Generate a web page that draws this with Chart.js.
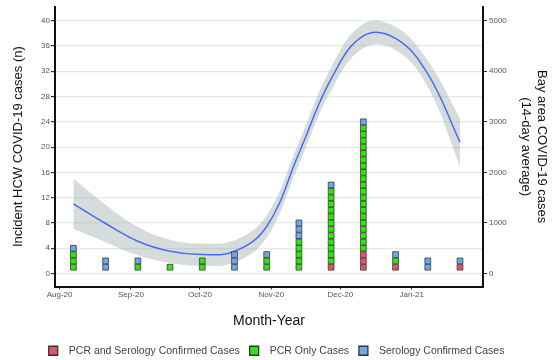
<!DOCTYPE html>
<html>
<head>
<meta charset="utf-8">
<script src="https://cdn.jsdelivr.net/npm/chart.js@4.4.0/dist/chart.umd.min.js"></script>
<style>
  html, body { margin: 0; padding: 0; background: #fff; }
  #wrap { width: 559px; height: 360px; }
</style>
</head>
<body>
<div id="wrap"><canvas id="hcwChart"></canvas></div>
<script>
// biweekly bins
const binDates = ["2020-08-07", "2020-08-21", "2020-09-04", "2020-09-18", "2020-10-02", "2020-10-16",
  "2020-10-30", "2020-11-13", "2020-11-27", "2020-12-11", "2020-12-25", "2021-01-08", "2021-01-22"];
const pcrSeroCounts = [0, 0, 0, 0, 0, 0, 0, 0, 1, 3, 1, 0, 1];
const pcrOnlyCounts = [3, 0, 1, 1, 2, 0, 2, 5, 12, 20, 1, 0, 0];
const seroCounts    = [1, 2, 1, 0, 0, 3, 1, 3, 1, 1, 1, 2, 1];

// bay area 14-day average, smoothed, with band
const bayTrend = [1380, 990, 640, 440, 375, 440, 930, 2380, 3850, 4700, 4650, 3950, 2600];
const bayLower = [880, 620, 360, 210, 155, 220, 710, 2160, 3620, 4460, 4420, 3690, 2130];
const bayUpper = [1880, 1360, 920, 670, 595, 660, 1150, 2600, 4080, 4940, 4880, 4210, 3070];

const monthStarts = ["2020-08-01", "2020-09-01", "2020-10-01", "2020-11-01", "2020-12-01", "2021-01-01"];
const monthLabels = ["Aug-20", "Sep-20", "Oct-20", "Nov-20", "Dec-20", "Jan-21"];

const leftTicks = [0, 4, 8, 12, 16, 20, 24, 28, 32, 36, 40];
const rightTicks = [0, 1000, 2000, 3000, 4000, 5000];

const origin = Date.parse("2020-08-01");
function dayOf(s) { return (Date.parse(s) - origin) / 86400000; }
const binDays = binDates.map(dayOf);
const monthDays = monthStarts.map(dayOf);

// stack one square per case: pcr+sero at bottom, then pcr only, then serology
const pinkPts = [], greenPts = [], bluePts = [];
binDays.forEach(function (d, i) {
  let n = 0;
  for (let k = 0; k < pcrSeroCounts[i]; k++) pinkPts.push({ x: d, y: ++n });
  for (let k = 0; k < pcrOnlyCounts[i]; k++) greenPts.push({ x: d, y: ++n });
  for (let k = 0; k < seroCounts[i]; k++) bluePts.push({ x: d, y: ++n });
});

const toXY = vals => vals.map((v, i) => ({ x: binDays[i], y: v }));

const FONT = "Liberation Sans, Arial, sans-serif";

const dotStyle = {
  type: "scatter",
  showLine: false,
  pointStyle: "rect",
  pointRadius: 4.1,
  pointBorderWidth: 0.8,
  pointBorderColor: "#3a3a3a",
  yAxisID: "y",
  order: 0
};

new Chart(document.getElementById("hcwChart"), {
  type: "line",
  data: {
    datasets: [
      Object.assign({ label: "PCR and Serology Confirmed Cases", data: pinkPts,
        backgroundColor: "#e8506d", pointBackgroundColor: "#e8506d", borderColor: "#3a3a3a" }, dotStyle),
      Object.assign({ label: "PCR Only Cases", data: greenPts,
        backgroundColor: "#2ee60a", pointBackgroundColor: "#2ee60a", borderColor: "#3a3a3a" }, dotStyle),
      Object.assign({ label: "Serology Confirmed Cases", data: bluePts,
        backgroundColor: "#6ea6f0", pointBackgroundColor: "#6ea6f0", borderColor: "#3a3a3a" }, dotStyle),
      {
        label: "trend", data: toXY(bayTrend), yAxisID: "y2",
        borderColor: "#4a6cf0", borderWidth: 1.5, pointRadius: 0,
        tension: 0.4, fill: false, order: 1
      },
      {
        label: "lower", data: toXY(bayLower), yAxisID: "y2",
        borderColor: "rgba(0,0,0,0)", pointRadius: 0,
        tension: 0.4, fill: false, order: 2
      },
      {
        label: "upper", data: toXY(bayUpper), yAxisID: "y2",
        borderColor: "rgba(0,0,0,0)", pointRadius: 0,
        backgroundColor: "rgba(165,176,176,0.45)",
        tension: 0.4, fill: "-1", order: 2
      }
    ]
  },
  options: {
    responsive: true,
    maintainAspectRatio: false,
    animation: false,
    events: [],
    // negative bottom padding pulls the legend down toward the edge
    layout: { padding: { top: 6, right: 0, left: 0, bottom: -6 } },
    plugins: {
      tooltip: { enabled: false },
      legend: {
        position: "bottom",
        labels: {
          boxWidth: 9,
          boxHeight: 9,
          padding: 4,
          color: "#444",
          font: { family: FONT, size: 10.5 },
          generateLabels: function (chart) {
            const items = Chart.defaults.plugins.legend.labels.generateLabels(chart)
              .filter(it => it.datasetIndex < 3);
            items.forEach(function (it) {
              it.text = "  " + it.text + "  ";
              it.lineWidth = 1.3;
              it.strokeStyle = "#333";
            });
            return items;
          }
        }
      }
    },
    scales: {
      x: {
        type: "linear",
        position: "bottom",
        min: -2,
        max: 184,
        afterBuildTicks: function (scale) {
          scale.ticks = monthDays.map(v => ({ value: v }));
        },
        afterFit: function (scale) { scale.height = 55; },
        ticks: {
          autoSkip: false,
          maxRotation: 0,
          padding: 0,
          color: "#555",
          font: { family: FONT, size: 8 },
          callback: function (v) {
            const i = monthDays.indexOf(v);
            return i >= 0 ? monthLabels[i] : "";
          }
        },
        grid: { drawOnChartArea: false, tickLength: 3, tickColor: "#333" },
        border: { display: true, color: "#111", width: 2 },
        title: {
          display: true, text: "Month-Year", color: "#111",
          font: { family: FONT, size: 14 },
          padding: { top: 0, bottom: 12 }
        }
      },
      y: {
        position: "left",
        min: -2.05,
        max: 42.2,
        afterBuildTicks: function (scale) {
          scale.ticks = leftTicks.map(v => ({ value: v }));
        },
        afterFit: function (scale) { scale.width = 55; },
        ticks: {
          padding: 1,
          color: "#555",
          font: { family: FONT, size: 8 }
        },
        grid: { color: "#e4eaea", lineWidth: 1.2, tickLength: 4, tickColor: "#333" },
        border: { display: true, color: "#111", width: 2 },
        title: {
          display: true, text: "Incident HCW COVID-19 cases (n)", color: "#111",
          font: { family: FONT, size: 13 },
          padding: { top: 11, bottom: 0 }
        }
      },
      y2: {
        position: "right",
        min: -256,
        max: 5275,
        afterBuildTicks: function (scale) {
          scale.ticks = rightTicks.map(v => ({ value: v }));
        },
        afterFit: function (scale) { scale.width = 76; },
        ticks: {
          padding: 2,
          color: "#555",
          font: { family: FONT, size: 8 },
          callback: v => String(v)
        },
        grid: { drawOnChartArea: false, tickLength: 4, tickColor: "#333" },
        border: { display: true, color: "#111", width: 2 },
        title: {
          display: true, text: ["Bay area COVID-19 cases", "(14-day average)"], color: "#111",
          font: { family: FONT, size: 13 },
          padding: { top: 10, bottom: 0 }
        }
      }
    }
  }
});
</script>
</body>
</html>
